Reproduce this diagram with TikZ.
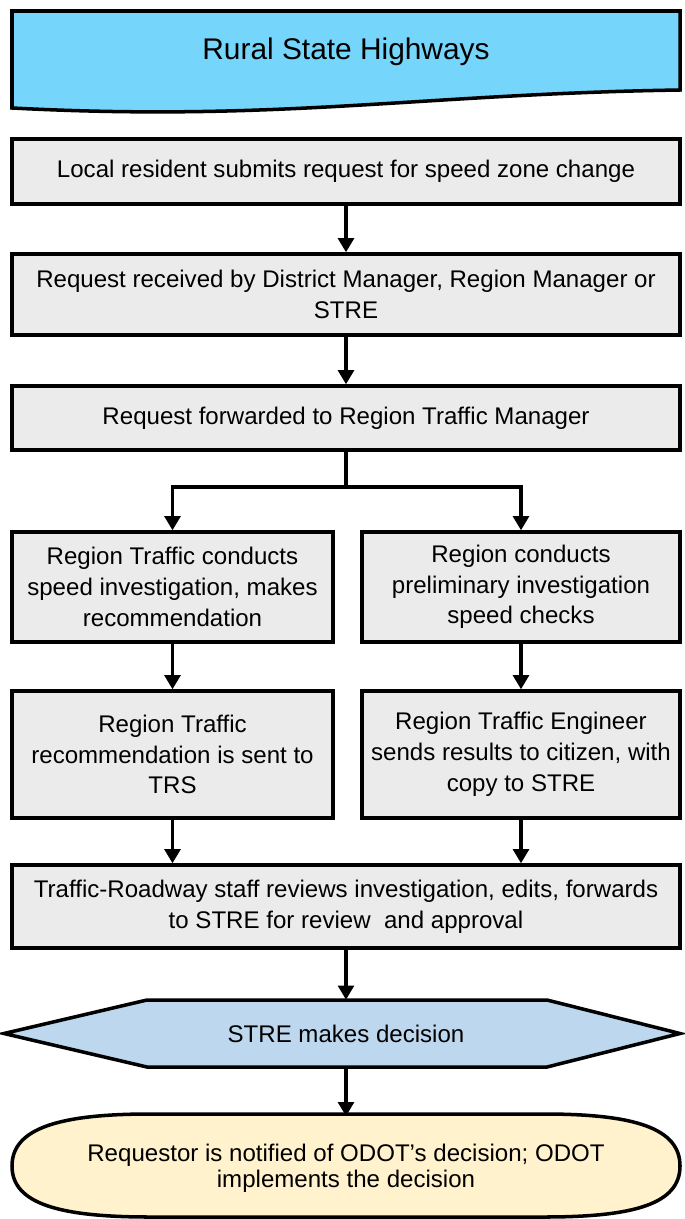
\documentclass[tikz,border=0pt]{standalone}
\usepackage{fontspec}
\setmainfont{Liberation Sans}
\usetikzlibrary{arrows.meta}
\definecolor{bannerblue}{RGB}{117,213,250}
\definecolor{boxgray}{RGB}{235,235,235}
\definecolor{hexblue}{RGB}{189,215,238}
\definecolor{notifyyellow}{RGB}{255,242,204}
\begin{document}
\begin{tikzpicture}[x=0.02cm,y=-0.02cm,
  stepbox/.style={draw, fill=boxgray, line width=2pt, align=center, inner sep=0pt,
    font=\fontsize{13.7}{17.5}\selectfont},
  flow/.style={line width=1.8pt, -{Triangle[length=8pt,width=9pt]}}]
\useasboundingbox (0,0) rectangle (684,1219);

% banner
\path[draw, fill=bannerblue, line width=2pt] (12,11) -- (680,11) -- (680,90)
  .. controls (420,94) and (280,122) .. (12,108) -- cycle;
\node[font=\fontsize{17}{20}\selectfont] (title) at (346,52) {Rural State Highways};

\node[stepbox, minimum width=13.36cm, minimum height=1.3cm] (b1) at (346,171.5) {Local resident submits request for speed zone change};
\node[stepbox, minimum width=13.36cm, minimum height=1.62cm] (b2) at (346,294.5) {Request received by District Manager, Region Manager or\\STRE};
\node[stepbox, minimum width=13.36cm, minimum height=1.28cm] (b3) at (346,418) {Request forwarded to Region Traffic Manager};
\node[stepbox, minimum width=6.42cm, minimum height=2.2cm] (b4l) at (172.5,587) {Region Traffic conducts\\speed investigation, makes\\recommendation};
\node[stepbox, minimum width=6.36cm, minimum height=2.2cm] (b4r) at (521,587) {Region conducts\\preliminary investigation\\speed checks};
\node[stepbox, minimum width=6.42cm, minimum height=2.54cm] (b5l) at (172.5,754.5) {Region Traffic\\recommendation is sent to\\TRS};
\node[stepbox, minimum width=6.36cm, minimum height=2.54cm] (b5r) at (521,754.5) {Region Traffic Engineer\\sends results to citizen, with\\copy to STRE};
\node[stepbox, minimum width=13.36cm, minimum height=1.66cm] (b6) at (346,906.5) {Traffic-Roadway staff reviews investigation, edits, forwards\\to STRE for review\ \ and approval};

% decision
\path[draw, fill=hexblue, line width=2pt] (4,1033.5) -- (147,1000) -- (547,1000) -- (680,1033.5) -- (547,1067) -- (147,1067) -- cycle;
\node[minimum width=8cm, minimum height=1.34cm, font=\fontsize{13.7}{17.5}\selectfont] (dec) at (346,1033.5) {STRE makes decision};

% end
\path[draw, fill=notifyyellow, line width=2pt] (12,1166) .. controls (12,1128) and (60,1114) .. (150,1114)
  -- (544,1114) .. controls (634,1114) and (680,1128) .. (680,1166)
  .. controls (680,1204) and (634,1217) .. (544,1217) -- (150,1217)
  .. controls (60,1217) and (12,1204) .. (12,1166) -- cycle;
\node[minimum width=8cm, minimum height=2.06cm, align=center, font=\fontsize{13.7}{15}\selectfont] (notify) at (346,1168) {Requestor is notified of ODOT’s decision; ODOT\\implements the decision};

\coordinate (split) at (346,487);
\draw[flow] (b1) -- (b2);
\draw[flow] (b2) -- (b3);
\draw[line width=1.8pt] (b3) -- (split);
\draw[flow] (split) -| (b4l);
\draw[flow] (split) -| (b4r);
\draw[flow] (b4l) -- (b5l);
\draw[flow] (b4r) -- (b5r);
\draw[flow] (b5l.south) -- (b5l.south |- b6.north);
\draw[flow] (b5r.south) -- (b5r.south |- b6.north);
\draw[flow] (b6) -- (dec);
\draw[flow] (dec) -- (notify);
\end{tikzpicture}
\end{document}
